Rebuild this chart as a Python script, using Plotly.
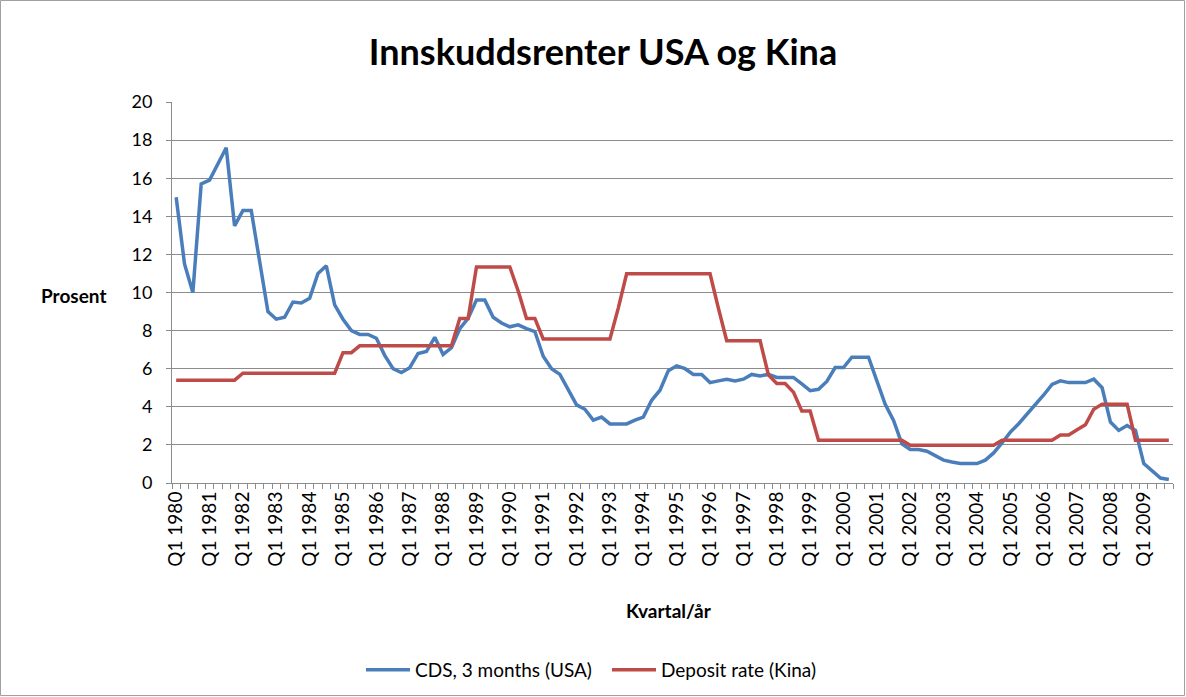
import plotly.graph_objects as go

quarters = [f"Q{q} {y}" for y in range(1980, 2010) for q in range(1, 5)]
year_labels = [f"Q1 {y}" for y in range(1980, 2010)]

cds_usa = [
    15.0, 11.5, 10.0, 15.7, 15.9, 16.8, 17.6, 13.5, 14.3, 14.3, 11.7, 9.0,
    8.6, 8.7, 9.5, 9.45, 9.7, 11.0, 11.4, 9.35, 8.6, 8.0, 7.8, 7.8,
    7.6, 6.7, 6.0, 5.8, 6.05, 6.8, 6.9, 7.65, 6.75, 7.1, 8.1, 8.65,
    9.6, 9.6, 8.7, 8.4, 8.2, 8.3, 8.1, 7.95, 6.65, 6.0, 5.7, 4.9,
    4.1, 3.87, 3.3, 3.46, 3.1, 3.1, 3.1, 3.3, 3.46, 4.34, 4.87, 5.9,
    6.15, 6.0, 5.7, 5.7, 5.27, 5.36, 5.45, 5.36, 5.45, 5.7, 5.62, 5.7,
    5.54, 5.54, 5.54, 5.2, 4.85, 4.92, 5.33, 6.06, 6.06, 6.6, 6.6, 6.6,
    5.36, 4.13, 3.29, 2.06, 1.76, 1.76, 1.67, 1.44, 1.2, 1.1, 1.02, 1.02,
    1.02, 1.2, 1.58, 2.1, 2.67, 3.11, 3.6, 4.13, 4.62, 5.18, 5.36, 5.27,
    5.27, 5.27, 5.45, 5.0, 3.2, 2.76, 3.02, 2.76, 1.02, 0.62, 0.26, 0.18,
]

deposit_kina = [
    5.4, 5.4, 5.4, 5.4, 5.4, 5.4, 5.4, 5.4, 5.76, 5.76, 5.76, 5.76,
    5.76, 5.76, 5.76, 5.76, 5.76, 5.76, 5.76, 5.76, 6.84, 6.84, 7.2, 7.2,
    7.2, 7.2, 7.2, 7.2, 7.2, 7.2, 7.2, 7.2, 7.2, 7.2, 8.64, 8.64,
    11.34, 11.34, 11.34, 11.34, 11.34, 10.08, 8.64, 8.64, 7.56, 7.56, 7.56, 7.56,
    7.56, 7.56, 7.56, 7.56, 7.56, 9.18, 10.98, 10.98, 10.98, 10.98, 10.98, 10.98,
    10.98, 10.98, 10.98, 10.98, 10.98, 9.18, 7.47, 7.47, 7.47, 7.47, 7.47, 5.67,
    5.22, 5.22, 4.77, 3.78, 3.78, 2.25, 2.25, 2.25, 2.25, 2.25, 2.25, 2.25,
    2.25, 2.25, 2.25, 2.25, 1.98, 1.98, 1.98, 1.98, 1.98, 1.98, 1.98, 1.98,
    1.98, 1.98, 1.98, 2.25, 2.25, 2.25, 2.25, 2.25, 2.25, 2.25, 2.52, 2.52,
    2.79, 3.06, 3.87, 4.14, 4.14, 4.14, 4.14, 2.25, 2.25, 2.25, 2.25, 2.25,
]

series_names = ["CDS, 3 months (USA)", "Deposit rate (Kina)"]
colors = ["#4A7EBB", "#BE4B48"]
FONT = "Lato"
GRID = "#8C8C8C"

W, H = 1186, 697
ml, mr, mt, mb = 172, 13, 102, 214
PW, PH = W - ml - mr, H - mt - mb


def px_x(x):
    return (x - ml) / PW


def px_y(y):
    return (H - mb - y) / PH


fig = go.Figure()
for name, vals, col in zip(series_names, [cds_usa, deposit_kina], colors):
    fig.add_trace(go.Scatter(
        x=quarters, y=vals, mode="lines", name=name,
        line=dict(color=col, width=3.5),
    ))

ticktext = [q if q in year_labels else "" for q in quarters]

fig.update_layout(
    width=W, height=H,
    margin=dict(l=ml, r=mr, t=mt, b=mb, autoexpand=False),
    paper_bgcolor="white", plot_bgcolor="white",
    font=dict(family=FONT, color="black"),
    title=dict(text="<b>Innskuddsrenter USA og Kina</b>", x=px_x(603), xref="paper",
               xanchor="center", y=1 - 52 / H, yanchor="middle",
               font=dict(size=36, family=FONT)),
    showlegend=True,
    legend=dict(orientation="h", x=px_x(361), xanchor="left", y=px_y(670),
                yanchor="middle", font=dict(size=19, family=FONT),
                itemwidth=44, entrywidth=187, entrywidthmode="pixels",
                bgcolor="rgba(0,0,0,0)"),
    xaxis=dict(
        type="category", tickmode="array", tickvals=quarters, ticktext=ticktext,
        tickson="boundaries", ticks="outside", ticklen=5, tickcolor=GRID,
        tickangle=-90, tickfont=dict(size=19, family=FONT),
        showgrid=False, showline=True, linecolor=GRID, linewidth=1,
        range=[-0.5, 119.5], zeroline=False, automargin=False,
    ),
    yaxis=dict(
        range=[0, 20], dtick=2, tick0=0, showgrid=True, gridcolor=GRID, gridwidth=1,
        showline=True, linecolor=GRID, linewidth=1, ticks="outside", ticklen=5,
        tickcolor=GRID, tickfont=dict(size=18, family=FONT), ticklabelstandoff=10,
        zeroline=False, automargin=False,
    ),
    annotations=[
        dict(text="<b>Prosent</b>", xref="paper", yref="paper",
             x=px_x(73), y=px_y(295),
             showarrow=False, xanchor="center", yanchor="middle",
             font=dict(size=19, family=FONT)),
        dict(text="<b>Kvartal/år</b>", xref="paper", yref="paper",
             x=px_x(669), y=px_y(610),
             showarrow=False, xanchor="center", yanchor="middle",
             font=dict(size=19, family=FONT)),
    ],
    shapes=[
        dict(type="rect", xref="paper", yref="paper",
             x0=px_x(0.5), x1=px_x(W - 1.5),
             y0=px_y(H - 1.5), y1=px_y(0.5),
             line=dict(color="#A0A0A0", width=1), fillcolor="rgba(0,0,0,0)", layer="below"),
    ],
)

fig.write_html("out.html", config={"displayModeBar": False},
               post_script="document.body.style.margin='0';")
